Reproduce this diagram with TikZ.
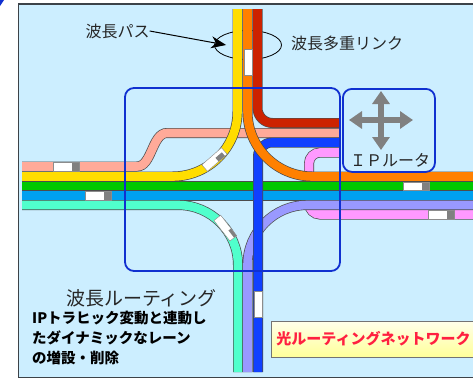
\documentclass[tikz,border=0pt]{standalone}
\usepackage{fontspec}
\newfontfamily\jpfont{Noto Sans CJK JP}
\usetikzlibrary{positioning,arrows.meta,shapes.geometric}

\definecolor{skyback}{RGB}{204,238,255}
\definecolor{frameline}{RGB}{60,66,72}
\definecolor{routerblue}{RGB}{16,48,208}
\definecolor{laneyellow}{RGB}{255,221,0}
\definecolor{laneorange}{RGB}{255,128,0}
\definecolor{lanered}{RGB}{204,34,0}
\definecolor{lanesalmon}{RGB}{255,170,153}
\definecolor{lanegreen}{RGB}{0,200,0}
\definecolor{lanesky}{RGB}{0,160,240}
\definecolor{laneaqua}{RGB}{80,255,204}
\definecolor{lanelilac}{RGB}{153,153,255}
\definecolor{lanepink}{RGB}{255,153,255}
\definecolor{laneblue}{RGB}{16,64,255}
\definecolor{labelred}{RGB}{255,32,64}

\begin{document}
\begin{tikzpicture}[
        x=1pt, y=-1pt,
        lane/.style={line width=8.6pt, preaction={draw=black!70, line width=10pt}},
        conv/.style={rectangle, draw=black!45, line width=0.4pt, fill=white,
            minimum width=26pt, minimum height=8.6pt, inner sep=0pt,
            path picture={\fill[black!50] ([xshift=-7pt]path picture bounding box.north east)
                rectangle (path picture bounding box.south east);}},
        area/.style={draw=routerblue, line width=1.8pt, rounded corners=9pt},
        label/.style={font=\jpfont\fontsize{16}{19}\selectfont, text=black!85, inner sep=0pt},
        cross/.style={line width=5.5pt, draw=black!50,
            {Triangle[length=13pt,width=17pt]}-{Triangle[length=13pt,width=17pt]}}
    ]
    \useasboundingbox (0,0) rectangle (473,380);
    \fill[skyback] (18.5,4) rectangle (490,377.5);
    \draw[frameline, line width=1.6pt] (18.5,4) rectangle (490,377.5);
    \fill[routerblue] (0,0) -- (4,0) -- (0,6) -- cycle;

    \node[ellipse, draw, line width=0.8pt, minimum width=67pt, minimum height=29pt] (bundle) at (248,45) {};

    % lanes, back to front
    \draw[lane, lanepink, rounded corners=11pt] (340,152.5) -- (309,152.5) -- (309,214.5) -- (473,214.5);
    \draw[lane, lanesalmon] (22,166.5) -- (137,166.5) .. controls (152,166.5) and (152,133) .. (167,133) -- (340,133);
    \draw[lane, lanered, rounded corners=15pt] (257.5,9) -- (257.5,123) -- (340,123);
    \draw[lane, lanegreen] (22,186) -- (473,186);
    \draw[lane, lanesky] (22,195.5) -- (473,195.5);
    \draw[lane, laneaqua, rounded corners=60pt] (22,205) -- (238,205) -- (238,372);
    \draw[lane, lanelilac, rounded corners=60pt] (473,205) -- (247.5,205) -- (247.5,372);
    \draw[lane, laneblue, rounded corners=14pt] (340,142.5) -- (258,142.5) -- (258,372);
    \draw[lane, laneyellow, rounded corners=65pt] (237.5,9) -- (237.5,176.5) -- (22,176.5);
    \draw[lane, laneorange, rounded corners=65pt] (247.5,9) -- (247.5,176.5) -- (473,176.5);

    \node[conv, rotate=90] (cvorange) at (248,62.5) {};
    \node[conv, rotate=41] (cvyellow) at (214.5,159.5) {};
    \node[conv] (cvsalmon) at (66,166.5) {};
    \node[conv] (cvsky) at (98,195.5) {};
    \node[conv] (cvgreen) at (416,186) {};
    \node[conv] (cvpink) at (441,214.5) {};
    \node[conv, rotate=128] (cvaqua) at (225.3,228.1) {};
    \node[conv, rotate=90] (cvblue) at (258,304.5) {};

    \draw[area] (125,88) rectangle (340,271);
    \node[area, minimum width=92pt, minimum height=83pt, anchor=north west] (router) at (342,88) {};
    \coordinate (hub) at (381,120);
    \draw[cross] ([xshift=-32pt]hub) -- ([xshift=32pt]hub);
    \draw[cross] ([yshift=29pt]hub) -- ([yshift=-30pt]hub);
    \node[label] (routerlbl) at (390,160) {ＩＰルータ};

    \node[label] (pathlbl) at (117.5,31) {波長パス};
    \draw[line width=1pt, -{Stealth[length=15pt,width=12pt]}] (pathlbl.east) -- ([xshift=12pt]bundle.west);
    \node[label, right=9pt of bundle, yshift=2pt] (linklbl) {波長多重リンク};

    \node[label, font=\jpfont\fontsize{19}{22}\selectfont] (routelbl) at (141.5,298.5) {波長ルーティング};
    \node[font=\jpfont\bfseries\fontsize{14.5}{20}\selectfont, align=left, anchor=north west, inner sep=0pt]
        (routenote) at (32,311) {IPトラヒック変動と連動し\\たダイナミックなレーン\\の増設・削除};

    \node[draw=black!55, line width=0.8pt, top color=yellow!8, bottom color=yellow!40,
        minimum height=36pt, text width=210pt, inner xsep=5pt, align=left, anchor=west,
        font=\jpfont\bfseries\fontsize{15}{18}\selectfont, text=labelred] (netbox) at (271,339) {光ルーティングネットワーク};
\end{tikzpicture}
\end{document}
